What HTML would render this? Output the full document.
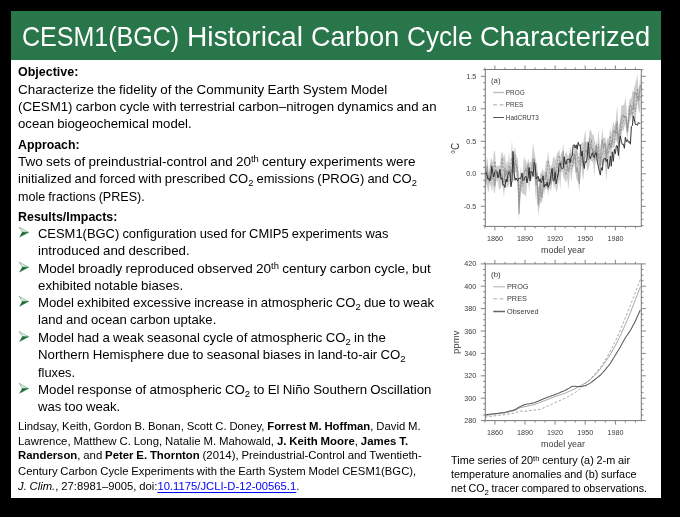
<!DOCTYPE html>
<html><head><meta charset="utf-8"><style>
html,body{margin:0;padding:0;background:#000;width:680px;height:517px;overflow:hidden}
.slide{position:absolute;left:11px;top:11px;width:650px;height:487px;background:#fff;overflow:hidden;font-family:"Liberation Sans",sans-serif;color:#000}
.tbar{position:absolute;left:0;top:0;width:650px;height:49.2px;background:#29764a}
.ln{position:absolute;white-space:nowrap;line-height:1;transform-origin:0 0}
.arr{position:absolute;left:0;top:0}

.sup{font-size:0.7em;vertical-align:0.42em;line-height:0}
.sub{font-size:0.72em;vertical-align:-0.36em;line-height:0}
.lnk{color:#0000ff;text-decoration:underline;text-decoration-thickness:1px;text-underline-offset:1.5px}

</style></head><body>
<div class="slide">
<div class="tbar"></div>
<div class="ln" style="left:11.39px;top:11.54px;font-size:27.6px;transform:scaleX(0.9070);color:#fff">CESM1(BGC)</div>
<div class="ln" style="left:176.36px;top:11.54px;font-size:27.6px;transform:scaleX(1.0218);color:#fff">Historical</div>
<div class="ln" style="left:299.93px;top:11.54px;font-size:27.6px;transform:scaleX(0.9739);color:#fff">Carbon</div>
<div class="ln" style="left:396.25px;top:11.54px;font-size:27.6px;transform:scaleX(0.9493);color:#fff">Cycle</div>
<div class="ln" style="left:469.01px;top:11.54px;font-size:27.6px;transform:scaleX(0.9905);color:#fff">Characterized</div>
<div class="ln" style="left:6.60px;top:53.87px;font-size:13.5px;transform:scaleX(0.9252);word-spacing:-0.5px"><b>Objective:</b></div>
<div class="ln" style="left:6.60px;top:71.77px;font-size:13.5px;transform:scaleX(0.9927);word-spacing:-0.5px">Characterize the fidelity of the Community Earth System Model</div>
<div class="ln" style="left:6.60px;top:89.17px;font-size:13.5px;transform:scaleX(0.9827);word-spacing:-0.5px">(CESM1) carbon cycle with terrestrial carbon–nitrogen dynamics and an</div>
<div class="ln" style="left:6.60px;top:106.37px;font-size:13.5px;transform:scaleX(0.9779);word-spacing:-0.5px">ocean biogeochemical model.</div>
<div class="ln" style="left:6.60px;top:126.97px;font-size:13.5px;transform:scaleX(0.9111);word-spacing:-0.5px"><b>Approach:</b></div>
<div class="ln" style="left:6.60px;top:144.37px;font-size:13.5px;transform:scaleX(0.9994);word-spacing:-0.5px">Two sets of preindustrial-control and 20<span class="sup">th</span> century experiments were</div>
<div class="ln" style="left:6.60px;top:161.17px;font-size:13.5px;transform:scaleX(0.9624);word-spacing:-0.5px">initialized and forced with prescribed CO<span class="sub">2</span> emissions (PROG) and CO<span class="sub">2</span></div>
<div class="ln" style="left:6.60px;top:178.67px;font-size:13.5px;transform:scaleX(0.9296);word-spacing:-0.5px">mole fractions (PRES).</div>
<div class="ln" style="left:6.60px;top:198.77px;font-size:13.5px;transform:scaleX(0.9200);word-spacing:-0.5px"><b>Results/Impacts:</b></div>
<div class="ln" style="left:26.80px;top:215.67px;font-size:13.5px;transform:scaleX(0.9590);word-spacing:-0.5px">CESM1(BGC) configuration used for CMIP5 experiments was</div>
<div class="ln" style="left:26.80px;top:232.87px;font-size:13.5px;transform:scaleX(0.9821);word-spacing:-0.5px">introduced and described.</div>
<div class="ln" style="left:26.80px;top:250.57px;font-size:13.5px;transform:scaleX(1.0005);word-spacing:-0.5px">Model broadly reproduced observed 20<span class="sup">th</span> century carbon cycle, but</div>
<div class="ln" style="left:26.80px;top:267.57px;font-size:13.5px;transform:scaleX(0.9830);word-spacing:-0.5px">exhibited notable biases.</div>
<div class="ln" style="left:26.80px;top:284.87px;font-size:13.5px;transform:scaleX(0.9771);word-spacing:-0.5px">Model exhibited excessive increase in atmospheric CO<span class="sub">2</span> due to weak</div>
<div class="ln" style="left:26.80px;top:302.37px;font-size:13.5px;transform:scaleX(0.9722);word-spacing:-0.5px">land and ocean carbon uptake.</div>
<div class="ln" style="left:26.80px;top:320.07px;font-size:13.5px;transform:scaleX(0.9787);word-spacing:-0.5px">Model had a weak seasonal cycle of atmospheric CO<span class="sub">2</span> in the</div>
<div class="ln" style="left:26.80px;top:337.07px;font-size:13.5px;transform:scaleX(0.9800);word-spacing:-0.5px">Northern Hemisphere due to seasonal biases in land-to-air CO<span class="sub">2</span></div>
<div class="ln" style="left:26.80px;top:354.67px;font-size:13.5px;transform:scaleX(0.9505);word-spacing:-0.5px">fluxes.</div>
<div class="ln" style="left:26.80px;top:371.87px;font-size:13.5px;transform:scaleX(0.9834);word-spacing:-0.5px">Model response of atmospheric CO<span class="sub">2</span> to El Niño Southern Oscillation</div>
<div class="ln" style="left:26.80px;top:388.67px;font-size:13.5px;transform:scaleX(0.9722);word-spacing:-0.5px">was too weak.</div>
<div class="ln" style="left:6.60px;top:409.82px;font-size:11.2px;transform:scaleX(1.0108);word-spacing:-0.3px">Lindsay, Keith, Gordon B. Bonan, Scott C. Doney, <b>Forrest M. Hoffman</b>, David M.</div>
<div class="ln" style="left:6.60px;top:424.92px;font-size:11.2px;transform:scaleX(1.0189);word-spacing:-0.3px">Lawrence, Matthew C. Long, Natalie M. Mahowald, <b>J. Keith Moore</b>, <b>James T.</b></div>
<div class="ln" style="left:6.60px;top:439.42px;font-size:11.2px;transform:scaleX(1.0148);word-spacing:-0.3px"><b>Randerson</b>, and <b>Peter E. Thornton</b> (2014), Preindustrial-Control and Twentieth-</div>
<div class="ln" style="left:6.60px;top:454.72px;font-size:11.2px;transform:scaleX(1.0091);word-spacing:-0.3px">Century Carbon Cycle Experiments with the Earth System Model CESM1(BGC),</div>
<div class="ln" style="left:6.60px;top:469.82px;font-size:11.2px;transform:scaleX(1.0071);word-spacing:-0.3px"><i>J. Clim.</i>, 27:8981–9005, doi:<span class="lnk">10.1175/JCLI-D-12-00565.1</span>.</div>
<div class="ln" style="left:440.00px;top:443.83px;font-size:10.6px;transform:scaleX(1.0262);word-spacing:-0.3px">Time series of 20<span class="sup">th</span> century (a) 2-m air</div>
<div class="ln" style="left:440.00px;top:457.93px;font-size:10.6px;transform:scaleX(1.0235);word-spacing:-0.3px">temperature anomalies and (b) surface</div>
<div class="ln" style="left:440.00px;top:471.73px;font-size:10.6px;transform:scaleX(1.0097);word-spacing:-0.3px">net CO<span class="sub">2</span> tracer compared to observations.</div>
<svg class="arr" width="650" height="487" viewBox="0 0 650 487"><path d="M8.1,216.1 L17.7,221.4 L11.3,221.1 Z" fill="#e4efe6" stroke="#5c9a6c" stroke-width="0.55"/><path d="M11.3,221.1 L17.7,221.4 L8.4,226.3 Z" fill="#1f6d3a" stroke="#1f6d3a" stroke-width="0.2"/><path d="M8.1,251.0 L17.7,256.3 L11.3,256.0 Z" fill="#e4efe6" stroke="#5c9a6c" stroke-width="0.55"/><path d="M11.3,256.0 L17.7,256.3 L8.4,261.2 Z" fill="#1f6d3a" stroke="#1f6d3a" stroke-width="0.2"/><path d="M8.1,285.3 L17.7,290.6 L11.3,290.3 Z" fill="#e4efe6" stroke="#5c9a6c" stroke-width="0.55"/><path d="M11.3,290.3 L17.7,290.6 L8.4,295.5 Z" fill="#1f6d3a" stroke="#1f6d3a" stroke-width="0.2"/><path d="M8.1,320.5 L17.7,325.8 L11.3,325.5 Z" fill="#e4efe6" stroke="#5c9a6c" stroke-width="0.55"/><path d="M11.3,325.5 L17.7,325.8 L8.4,330.7 Z" fill="#1f6d3a" stroke="#1f6d3a" stroke-width="0.2"/><path d="M8.1,372.3 L17.7,377.6 L11.3,377.3 Z" fill="#e4efe6" stroke="#5c9a6c" stroke-width="0.55"/><path d="M11.3,377.3 L17.7,377.6 L8.4,382.5 Z" fill="#1f6d3a" stroke="#1f6d3a" stroke-width="0.2"/></svg>
<svg class="chart" width="680" height="517" viewBox="0 0 680 517" style="position:absolute;left:-11px;top:-11px">
<defs><filter id="bl" x="-5%" y="-5%" width="110%" height="110%"><feGaussianBlur stdDeviation="0.45"/></filter></defs>
<g filter="url(#bl)">
<polygon points="484.9,164.0 485.9,169.5 486.9,156.4 487.9,162.0 488.9,174.6 489.9,165.2 490.9,158.2 491.9,159.0 492.9,162.7 493.9,152.0 494.9,150.5 495.9,164.7 496.9,166.6 497.9,166.1 498.9,165.4 500.0,165.7 501.0,155.4 502.0,151.0 503.0,154.4 504.0,158.0 505.0,152.5 506.0,165.7 507.0,161.1 508.0,163.0 509.0,152.0 510.0,164.4 511.0,153.7 512.0,140.1 513.0,156.9 514.0,152.4 515.0,146.1 516.0,154.1 517.0,158.0 518.0,159.4 519.0,189.5 520.0,173.9 521.0,166.2 522.0,178.1 523.0,168.0 524.0,156.6 525.0,159.4 526.0,160.9 527.0,165.1 528.1,157.8 529.1,162.3 530.1,162.1 531.1,162.9 532.1,155.0 533.1,141.9 534.1,150.3 535.1,156.0 536.1,162.5 537.1,163.5 538.1,186.1 539.1,187.7 540.1,171.7 541.1,174.6 542.1,168.7 543.1,169.9 544.1,172.7 545.1,168.8 546.1,161.0 547.1,159.9 548.1,151.3 549.1,160.4 550.1,168.1 551.1,165.8 552.1,164.3 553.1,157.6 554.1,155.7 555.1,160.7 556.1,157.1 557.2,153.1 558.2,151.8 559.2,149.3 560.2,156.8 561.2,153.0 562.2,151.8 563.2,142.3 564.2,156.9 565.2,153.6 566.2,150.9 567.2,154.8 568.2,156.8 569.2,154.1 570.2,145.9 571.2,153.7 572.2,147.0 573.2,155.2 574.2,146.7 575.2,150.1 576.2,143.8 577.2,146.0 578.2,155.9 579.2,156.8 580.2,145.0 581.2,143.9 582.2,141.8 583.2,143.6 584.2,136.5 585.2,129.7 586.3,142.4 587.3,140.5 588.3,145.5 589.3,132.6 590.3,129.0 591.3,131.6 592.3,134.8 593.3,134.4 594.3,138.1 595.3,145.6 596.3,139.4 597.3,149.3 598.3,129.4 599.3,139.5 600.3,151.9 601.3,140.5 602.3,127.5 603.3,137.7 604.3,138.3 605.3,136.7 606.3,143.4 607.3,138.2 608.3,138.4 609.3,136.5 610.3,127.1 611.3,134.8 612.3,128.1 613.3,120.9 614.4,126.3 615.4,123.7 616.4,112.9 617.4,106.0 618.4,133.6 619.4,124.8 620.4,117.8 621.4,105.3 622.4,105.8 623.4,105.1 624.4,104.1 625.4,97.2 626.4,105.5 627.4,123.4 628.4,112.9 629.4,99.5 630.4,99.3 631.4,98.0 632.4,90.9 633.4,91.8 634.4,86.7 635.4,83.7 636.4,79.0 637.4,73.9 638.4,89.8 639.4,85.9 640.4,74.3 640.4,106.7 639.4,113.6 638.4,109.8 637.4,103.4 636.4,111.3 635.4,123.3 634.4,120.1 633.4,120.9 632.4,124.3 631.4,114.5 630.4,120.2 629.4,122.6 628.4,129.5 627.4,140.4 626.4,131.1 625.4,124.2 624.4,126.7 623.4,131.3 622.4,129.2 621.4,136.1 620.4,137.9 619.4,162.5 618.4,151.5 617.4,142.8 616.4,140.7 615.4,140.7 614.4,148.2 613.3,147.9 612.3,147.0 611.3,154.6 610.3,160.7 609.3,151.6 608.3,166.7 607.3,168.8 606.3,180.7 605.3,167.4 604.3,160.9 603.3,166.1 602.3,164.3 601.3,165.6 600.3,172.5 599.3,171.1 598.3,159.4 597.3,163.3 596.3,159.0 595.3,163.2 594.3,176.7 593.3,164.1 592.3,161.8 591.3,160.9 590.3,160.3 589.3,165.7 588.3,169.6 587.3,171.6 586.3,163.1 585.2,157.1 584.2,170.3 583.2,180.7 582.2,174.0 581.2,161.7 580.2,178.1 579.2,193.6 578.2,180.4 577.2,181.8 576.2,178.0 575.2,169.4 574.2,163.9 573.2,168.1 572.2,173.3 571.2,182.5 570.2,170.4 569.2,180.9 568.2,189.5 567.2,177.8 566.2,181.1 565.2,182.6 564.2,178.5 563.2,177.3 562.2,169.8 561.2,173.9 560.2,189.6 559.2,178.4 558.2,183.8 557.2,190.6 556.1,191.8 555.1,184.2 554.1,189.2 553.1,183.1 552.1,180.3 551.1,191.9 550.1,188.6 549.1,188.1 548.1,196.0 547.1,186.3 546.1,189.0 545.1,188.9 544.1,195.3 543.1,190.7 542.1,203.8 541.1,201.6 540.1,204.3 539.1,209.9 538.1,214.9 537.1,187.6 536.1,201.5 535.1,191.1 534.1,168.0 533.1,176.5 532.1,178.7 531.1,180.8 530.1,180.9 529.1,192.7 528.1,178.6 527.0,184.5 526.0,197.1 525.0,195.3 524.0,193.9 523.0,194.4 522.0,192.4 521.0,191.3 520.0,200.2 519.0,220.3 518.0,189.2 517.0,179.7 516.0,173.1 515.0,172.2 514.0,177.1 513.0,182.9 512.0,180.1 511.0,179.8 510.0,181.5 509.0,184.6 508.0,187.1 507.0,188.0 506.0,182.4 505.0,185.5 504.0,197.6 503.0,189.4 502.0,180.5 501.0,187.7 500.0,188.7 498.9,189.5 497.9,181.3 496.9,181.8 495.9,179.9 494.9,193.7 493.9,192.3 492.9,184.5 491.9,192.3 490.9,186.0 489.9,183.4 488.9,191.1 487.9,192.1 486.9,184.1 485.9,188.5 484.9,190.8" fill="#cdcdcd"/>
<polyline points="484.9,182.8 485.9,182.1 486.9,165.9 487.9,175.2 488.9,181.0 489.9,173.9 490.9,164.4 491.9,179.6 492.9,176.8 493.9,178.6 494.9,186.5 495.9,173.0 496.9,173.1 497.9,172.5 498.9,177.6 500.0,171.5 501.0,175.8 502.0,174.7 503.0,180.5 504.0,183.2 505.0,167.6 506.0,173.9 507.0,170.8 508.0,171.7 509.0,174.5 510.0,175.8 511.0,168.7 512.0,172.2 513.0,172.3 514.0,171.1 515.0,163.0 516.0,163.8 517.0,166.2 518.0,173.5 519.0,214.0 520.0,192.8 521.0,182.1 522.0,183.3 523.0,177.8 524.0,173.3 525.0,170.6 526.0,168.4 527.0,173.7 528.1,163.9 529.1,178.4 530.1,169.8 531.1,169.2 532.1,166.5 533.1,159.0 534.1,159.0 535.1,176.1 536.1,185.4 537.1,172.3 538.1,205.6 539.1,195.0 540.1,183.1 541.1,193.0 542.1,198.0 543.1,183.2 544.1,178.4 545.1,178.0 546.1,172.6 547.1,177.5 548.1,189.7 549.1,179.4 550.1,180.3 551.1,184.5 552.1,171.6 553.1,170.5 554.1,166.8 555.1,174.3 556.1,174.4 557.2,176.4 558.2,176.0 559.2,168.6 560.2,172.0 561.2,165.6 562.2,163.1 563.2,151.0 564.2,168.7 565.2,159.7 566.2,162.7 567.2,162.9 568.2,172.0 569.2,168.5 570.2,159.1 571.2,160.9 572.2,160.2 573.2,162.1 574.2,153.0 575.2,157.2 576.2,172.5 577.2,167.7 578.2,174.0 579.2,184.2 580.2,169.7 581.2,152.2 582.2,154.1 583.2,162.3 584.2,163.4 585.2,149.9 586.3,151.4 587.3,152.4 588.3,153.3 589.3,152.7 590.3,147.3 591.3,146.9 592.3,148.7 593.3,157.3 594.3,150.0 595.3,155.0 596.3,145.0 597.3,156.7 598.3,153.2 599.3,163.9 600.3,166.2 601.3,145.7 602.3,139.3 603.3,148.8 604.3,143.7 605.3,144.0 606.3,162.3 607.3,149.0 608.3,145.6 609.3,142.7 610.3,148.3 611.3,144.2 612.3,141.3 613.3,130.6 614.4,131.5 615.4,133.2 616.4,122.7 617.4,131.5 618.4,142.2 619.4,146.8 620.4,124.4 621.4,118.9 622.4,115.8 623.4,115.1 624.4,117.3 625.4,116.3 626.4,117.3 627.4,132.5 628.4,122.7 629.4,106.8 630.4,105.3 631.4,106.9 632.4,109.2 633.4,108.9 634.4,92.9 635.4,92.7 636.4,94.5 637.4,96.5 638.4,100.9 639.4,94.4 640.4,84.7" fill="none" stroke="#a0a0a0" stroke-width="1.2"/>
<polyline points="484.9,175.1 485.9,174.8 486.9,174.6 487.9,172.4 488.9,182.6 489.9,177.3 490.9,179.5 491.9,168.9 492.9,175.9 493.9,169.5 494.9,161.1 495.9,170.1 496.9,175.0 497.9,171.6 498.9,171.6 500.0,178.0 501.0,170.7 502.0,158.0 503.0,168.3 504.0,171.5 505.0,178.1 506.0,171.3 507.0,179.0 508.0,180.7 509.0,165.6 510.0,174.4 511.0,164.5 512.0,158.0 513.0,163.8 514.0,163.8 515.0,154.6 516.0,165.7 517.0,172.4 518.0,179.9 519.0,202.9 520.0,183.4 521.0,177.1 522.0,185.3 523.0,186.3 524.0,183.4 525.0,176.6 526.0,176.8 527.0,171.6 528.1,170.2 529.1,173.7 530.1,173.2 531.1,171.4 532.1,172.7 533.1,169.3 534.1,159.2 535.1,164.0 536.1,169.0 537.1,182.0 538.1,196.4 539.1,202.5 540.1,198.7 541.1,180.8 542.1,174.1 543.1,176.3 544.1,186.4 545.1,180.5 546.1,177.4 547.1,168.6 548.1,160.6 549.1,165.8 550.1,173.4 551.1,178.1 552.1,172.2 553.1,170.6 554.1,176.1 555.1,169.5 556.1,175.1 557.2,162.0 558.2,157.5 559.2,155.5 560.2,164.6 561.2,161.1 562.2,163.8 563.2,166.1 564.2,166.2 565.2,172.3 566.2,175.0 567.2,161.1 568.2,162.4 569.2,159.9 570.2,153.6 571.2,168.9 572.2,167.8 573.2,160.8 574.2,156.7 575.2,160.0 576.2,151.6 577.2,153.7 578.2,163.3 579.2,164.5 580.2,153.3 581.2,151.3 582.2,165.6 583.2,149.1 584.2,147.9 585.2,142.3 586.3,151.4 587.3,153.8 588.3,159.9 589.3,138.0 590.3,147.7 591.3,139.4 592.3,150.9 593.3,149.4 594.3,160.6 595.3,155.9 596.3,145.2 597.3,155.8 598.3,144.1 599.3,156.3 600.3,160.6 601.3,157.2 602.3,154.8 603.3,150.7 604.3,151.9 605.3,153.9 606.3,149.9 607.3,152.1 608.3,153.9 609.3,145.6 610.3,135.7 611.3,147.2 612.3,140.3 613.3,141.4 614.4,143.0 615.4,130.8 616.4,134.3 617.4,121.4 618.4,139.4 619.4,130.4 620.4,129.4 621.4,130.8 622.4,121.3 623.4,121.5 624.4,115.5 625.4,116.5 626.4,122.0 627.4,131.0 628.4,120.9 629.4,108.7 630.4,114.5 631.4,109.0 632.4,116.5 633.4,102.2 634.4,107.1 635.4,111.9 636.4,101.2 637.4,88.5 638.4,99.9 639.4,99.8 640.4,96.3" fill="none" stroke="#8a8a8a" stroke-width="0.8" stroke-dasharray="2,1.5"/>
<polyline points="484.9,173.8 485.9,172.0 486.9,174.7 487.9,179.2 488.9,178.1 489.9,180.9 490.9,175.7 491.9,166.3 492.9,173.7 493.9,177.0 494.9,171.6 495.9,170.5 496.9,171.5 497.9,177.9 498.9,174.8 500.0,169.4 501.0,179.4 502.0,177.7 503.0,185.5 504.0,184.6 505.0,187.5 506.0,179.0 507.0,182.0 508.0,173.9 509.0,171.7 510.0,172.8 511.0,186.8 512.0,180.0 513.0,151.3 514.0,171.8 515.0,180.3 516.0,177.8 517.0,180.3 518.0,180.6 519.0,178.0 520.0,178.6 521.0,177.8 522.0,173.0 523.0,180.8 524.0,179.5 525.0,177.2 526.0,176.2 527.0,182.9 528.1,177.1 529.1,167.5 530.1,180.9 531.1,171.2 532.1,172.0 533.1,176.4 534.1,162.3 535.1,164.3 536.1,178.9 537.1,178.1 538.1,176.3 539.1,181.6 540.1,178.7 541.1,182.7 542.1,180.5 543.1,175.9 544.1,187.3 545.1,184.2 546.1,185.9 547.1,182.0 548.1,187.3 549.1,185.2 550.1,181.6 551.1,173.4 552.1,168.4 553.1,180.5 554.1,181.1 555.1,172.2 556.1,183.9 557.2,178.4 558.2,173.8 559.2,163.6 560.2,162.7 561.2,167.7 562.2,169.0 563.2,168.2 564.2,156.9 565.2,163.7 566.2,164.1 567.2,159.3 568.2,159.4 569.2,158.8 570.2,162.9 571.2,156.8 572.2,156.1 573.2,145.4 574.2,144.7 575.2,148.1 576.2,144.9 577.2,149.3 578.2,142.3 579.2,145.7 580.2,144.7 581.2,156.1 582.2,151.2 583.2,162.0 584.2,168.6 585.2,161.5 586.3,162.3 587.3,156.4 588.3,142.3 589.3,155.5 590.3,159.0 591.3,155.5 592.3,152.8 593.3,156.0 594.3,157.6 595.3,153.1 596.3,152.8 597.3,162.1 598.3,166.1 599.3,171.1 600.3,175.1 601.3,167.6 602.3,170.3 603.3,159.3 604.3,158.9 605.3,158.1 606.3,161.4 607.3,159.2 608.3,168.7 609.3,166.3 610.3,156.0 611.3,166.3 612.3,151.8 613.3,161.3 614.4,149.2 615.4,153.7 616.4,145.5 617.4,146.0 618.4,155.5 619.4,142.1 620.4,135.9 621.4,141.8 622.4,144.5 623.4,144.2 624.4,148.3 625.4,137.0 626.4,141.7 627.4,139.6 628.4,142.4 629.4,141.5 630.4,144.2 631.4,126.4 632.4,125.6 633.4,116.0 634.4,119.5 635.4,124.7 636.4,124.3 637.4,125.4 638.4,122.3 639.4,123.4 640.4,123.2" fill="none" stroke="#333" stroke-width="1.0"/>
<rect x="485.3" y="69.5" width="156.0" height="156.9" fill="none" stroke="#787878" stroke-width="1.0"/>
<path d="M480.8,206.3H485.3M641.3,206.3H645.8M480.8,173.8H485.3M641.3,173.8H645.8M480.8,141.3H485.3M641.3,141.3H645.8M480.8,108.8H485.3M641.3,108.8H645.8M480.8,76.3H485.3M641.3,76.3H645.8M483.1,225.8H485.3M641.3,225.8H643.5M483.1,219.3H485.3M641.3,219.3H643.5M483.1,212.8H485.3M641.3,212.8H643.5M483.1,199.8H485.3M641.3,199.8H643.5M483.1,193.3H485.3M641.3,193.3H643.5M483.1,186.8H485.3M641.3,186.8H643.5M483.1,180.3H485.3M641.3,180.3H643.5M483.1,167.3H485.3M641.3,167.3H643.5M483.1,160.8H485.3M641.3,160.8H643.5M483.1,154.3H485.3M641.3,154.3H643.5M483.1,147.8H485.3M641.3,147.8H643.5M483.1,134.8H485.3M641.3,134.8H643.5M483.1,128.3H485.3M641.3,128.3H643.5M483.1,121.8H485.3M641.3,121.8H643.5M483.1,115.3H485.3M641.3,115.3H643.5M483.1,102.3H485.3M641.3,102.3H643.5M483.1,95.8H485.3M641.3,95.8H643.5M483.1,89.3H485.3M641.3,89.3H643.5M483.1,82.8H485.3M641.3,82.8H643.5M483.1,69.8H485.3M641.3,69.8H643.5M484.9,67.5V69.5M484.9,226.4V228.4M494.9,65.5V69.5M494.9,226.4V230.4M505.0,67.5V69.5M505.0,226.4V228.4M515.0,67.5V69.5M515.0,226.4V228.4M525.0,65.5V69.5M525.0,226.4V230.4M535.1,67.5V69.5M535.1,226.4V228.4M545.1,67.5V69.5M545.1,226.4V228.4M555.1,65.5V69.5M555.1,226.4V230.4M565.2,67.5V69.5M565.2,226.4V228.4M575.2,67.5V69.5M575.2,226.4V228.4M585.2,65.5V69.5M585.2,226.4V230.4M595.3,67.5V69.5M595.3,226.4V228.4M605.3,67.5V69.5M605.3,226.4V228.4M615.4,65.5V69.5M615.4,226.4V230.4M625.4,67.5V69.5M625.4,226.4V228.4M635.4,67.5V69.5M635.4,226.4V228.4" stroke="#787878" stroke-width="0.9" fill="none"/>
<text x="476.2" y="78.8" font-size="7.2" text-anchor="end" font-family="Liberation Sans" fill="#3a3a3a">1.5</text>
<text x="476.2" y="111.3" font-size="7.2" text-anchor="end" font-family="Liberation Sans" fill="#3a3a3a">1.0</text>
<text x="476.2" y="143.8" font-size="7.2" text-anchor="end" font-family="Liberation Sans" fill="#3a3a3a">0.5</text>
<text x="476.2" y="176.3" font-size="7.2" text-anchor="end" font-family="Liberation Sans" fill="#3a3a3a">0.0</text>
<text x="476.2" y="208.8" font-size="7.2" text-anchor="end" font-family="Liberation Sans" fill="#3a3a3a">-0.5</text>
<text x="494.9" y="240.9" font-size="7.2" text-anchor="middle" font-family="Liberation Sans" fill="#3a3a3a">1860</text>
<text x="525.0" y="240.9" font-size="7.2" text-anchor="middle" font-family="Liberation Sans" fill="#3a3a3a">1890</text>
<text x="555.1" y="240.9" font-size="7.2" text-anchor="middle" font-family="Liberation Sans" fill="#3a3a3a">1920</text>
<text x="585.2" y="240.9" font-size="7.2" text-anchor="middle" font-family="Liberation Sans" fill="#3a3a3a">1950</text>
<text x="615.4" y="240.9" font-size="7.2" text-anchor="middle" font-family="Liberation Sans" fill="#3a3a3a">1980</text>
<text x="563" y="252.6" font-size="8.9" text-anchor="middle" font-family="Liberation Sans" fill="#3a3a3a">model year</text>
<text transform="translate(458.6,148.5) rotate(-90)" font-size="10" text-anchor="middle" font-family="Liberation Sans" fill="#3a3a3a">°C</text>
<text x="491.0" y="82.8" font-size="7.8" font-family="Liberation Sans" fill="#3a3a3a">(a)</text>
<path d="M493.2,92.5H503.9" stroke="#bdbdbd" stroke-width="1.4"/>
<path d="M493.2,104.9H503.9" stroke="#8a8a8a" stroke-width="0.8" stroke-dasharray="3.7,2.7"/>
<path d="M493.2,117.5H503.9" stroke="#3c3c3c" stroke-width="0.9"/>
<text x="505.8" y="94.8" font-size="6.4" font-family="Liberation Sans" fill="#3a3a3a">PROG</text>
<text x="505.8" y="107.2" font-size="6.4" font-family="Liberation Sans" fill="#3a3a3a">PRES</text>
<text x="505.8" y="119.8" font-size="6.4" font-family="Liberation Sans" fill="#3a3a3a">HadCRUT3</text>
<polyline points="484.9,417.2 485.9,417.1 486.9,417.0 487.9,416.8 488.9,416.7 489.9,416.5 490.9,416.4 491.9,416.2 492.9,416.1 493.9,415.9 494.9,415.8 495.9,415.7 496.9,415.6 497.9,415.4 498.9,415.3 500.0,415.2 501.0,415.1 502.0,415.0 503.0,414.9 504.0,414.8 505.0,414.7 506.0,414.5 507.0,414.3 508.0,414.2 509.0,414.0 510.0,413.8 511.0,413.7 512.0,413.5 513.0,413.3 514.0,413.2 515.0,413.0 516.0,412.6 517.0,412.2 518.0,411.8 519.0,411.5 520.0,411.1 521.0,411.1 522.0,411.2 523.0,411.2 524.0,411.3 525.0,411.3 526.0,411.2 527.0,411.0 528.1,410.8 529.1,410.7 530.1,410.5 531.1,410.4 532.1,410.3 533.1,410.2 534.1,410.1 535.1,410.0 536.1,409.9 537.1,409.7 538.1,409.6 539.1,409.5 540.1,409.4 541.1,409.0 542.1,408.5 543.1,408.1 544.1,407.6 545.1,407.2 546.1,406.7 547.1,406.3 548.1,405.8 549.1,405.4 550.1,404.9 551.1,404.5 552.1,404.0 553.1,403.6 554.1,403.1 555.1,402.7 556.1,402.2 557.2,401.8 558.2,401.3 559.2,400.9 560.2,400.4 561.2,400.0 562.2,399.6 563.2,399.1 564.2,398.7 565.2,398.2 566.2,397.6 567.2,397.1 568.2,396.5 569.2,396.0 570.2,395.4 571.2,394.8 572.2,394.3 573.2,393.7 574.2,393.2 575.2,392.6 576.2,391.8 577.2,391.0 578.2,390.3 579.2,389.5 580.2,388.7 581.2,387.7 582.2,386.7 583.2,385.7 584.2,384.7 585.2,383.7 586.3,382.8 587.3,381.9 588.3,381.0 589.3,380.1 590.3,379.2 591.3,378.1 592.3,376.9 593.3,375.8 594.3,374.7 595.3,373.6 596.3,372.3 597.3,371.1 598.3,369.9 599.3,368.7 600.3,367.4 601.3,366.0 602.3,364.5 603.3,363.1 604.3,361.6 605.3,360.1 606.3,358.4 607.3,356.6 608.3,354.8 609.3,353.0 610.3,351.2 611.3,349.2 612.3,347.2 613.3,345.1 614.4,343.1 615.4,341.1 616.4,338.9 617.4,336.6 618.4,334.4 619.4,332.2 620.4,329.9 621.4,327.4 622.4,325.0 623.4,322.5 624.4,320.1 625.4,317.6 626.4,315.1 627.4,312.7 628.4,310.2 629.4,307.7 630.4,305.3 631.4,302.7 632.4,300.1 633.4,297.6 634.4,295.0 635.4,292.4 636.4,289.8 637.4,287.3 638.4,284.7 639.4,282.1 640.4,279.5" fill="none" stroke="#8c8c8c" stroke-width="0.8" stroke-dasharray="2.5,2"/>
<polyline points="484.9,415.7 485.9,415.5 486.9,415.4 487.9,415.2 488.9,415.0 489.9,414.9 490.9,414.7 491.9,414.6 492.9,414.4 493.9,414.3 494.9,414.1 495.9,414.0 496.9,413.8 497.9,413.7 498.9,413.6 500.0,413.4 501.0,413.3 502.0,413.2 503.0,413.0 504.0,412.9 505.0,412.8 506.0,412.5 507.0,412.3 508.0,412.1 509.0,411.9 510.0,411.6 511.0,411.4 512.0,411.2 513.0,411.0 514.0,410.7 515.0,410.5 516.0,410.0 517.0,409.4 518.0,408.8 519.0,408.3 520.0,407.7 521.0,407.5 522.0,407.3 523.0,407.1 524.0,406.8 525.0,406.6 526.0,406.4 527.0,406.2 528.1,405.9 529.1,405.7 530.1,405.5 531.1,405.3 532.1,405.0 533.1,404.8 534.1,404.6 535.1,404.4 536.1,404.0 537.1,403.6 538.1,403.2 539.1,402.8 540.1,402.4 541.1,402.0 542.1,401.6 543.1,401.2 544.1,400.8 545.1,400.4 546.1,400.1 547.1,399.7 548.1,399.3 549.1,398.9 550.1,398.5 551.1,398.1 552.1,397.7 553.1,397.3 554.1,396.9 555.1,396.5 556.1,396.2 557.2,395.9 558.2,395.5 559.2,395.2 560.2,394.8 561.2,394.5 562.2,394.2 563.2,393.8 564.2,393.5 565.2,393.2 566.2,392.7 567.2,392.3 568.2,391.8 569.2,391.4 570.2,390.9 571.2,390.5 572.2,390.0 573.2,389.6 574.2,389.1 575.2,388.7 576.2,388.1 577.2,387.6 578.2,387.0 579.2,386.5 580.2,385.9 581.2,385.3 582.2,384.8 583.2,384.2 584.2,383.7 585.2,383.1 586.3,382.4 587.3,381.7 588.3,381.1 589.3,380.4 590.3,379.7 591.3,378.7 592.3,377.7 593.3,376.7 594.3,375.7 595.3,374.7 596.3,373.6 597.3,372.5 598.3,371.3 599.3,370.2 600.3,369.1 601.3,367.6 602.3,366.2 603.3,364.7 604.3,363.3 605.3,361.8 606.3,360.4 607.3,358.9 608.3,357.5 609.3,356.0 610.3,354.5 611.3,352.8 612.3,351.0 613.3,349.2 614.4,347.4 615.4,345.6 616.4,343.6 617.4,341.6 618.4,339.5 619.4,337.5 620.4,335.5 621.4,333.3 622.4,331.0 623.4,328.8 624.4,326.6 625.4,324.3 626.4,322.0 627.4,319.6 628.4,317.3 629.4,314.9 630.4,312.6 631.4,310.0 632.4,307.4 633.4,304.8 634.4,302.3 635.4,299.7 636.4,297.1 637.4,294.5 638.4,292.0 639.4,289.4 640.4,286.8" fill="none" stroke="#8c8c8c" stroke-width="0.8"/>
<polyline points="484.9,414.8 485.9,414.7 486.9,414.6 487.9,414.4 488.9,414.3 489.9,414.2 490.9,414.1 491.9,414.0 492.9,413.9 493.9,413.8 494.9,413.7 495.9,413.5 496.9,413.4 497.9,413.3 498.9,413.2 500.0,413.0 501.0,412.9 502.0,412.8 503.0,412.7 504.0,412.6 505.0,412.4 506.0,412.1 507.0,411.9 508.0,411.6 509.0,411.3 510.0,411.0 511.0,410.7 512.0,410.5 513.0,410.2 514.0,409.9 515.0,409.6 516.0,409.0 517.0,408.4 518.0,407.8 519.0,407.2 520.0,406.6 521.0,406.2 522.0,405.7 523.0,405.3 524.0,404.8 525.0,404.4 526.0,404.2 527.0,404.1 528.1,403.9 529.1,403.7 530.1,403.6 531.1,403.4 532.1,403.1 533.1,402.9 534.1,402.7 535.1,402.5 536.1,402.0 537.1,401.6 538.1,401.2 539.1,400.8 540.1,400.3 541.1,399.9 542.1,399.5 543.1,399.1 544.1,398.6 545.1,398.2 546.1,397.8 547.1,397.5 548.1,397.1 549.1,396.7 550.1,396.4 551.1,396.0 552.1,395.6 553.1,395.3 554.1,394.9 555.1,394.5 556.1,394.1 557.2,393.7 558.2,393.3 559.2,392.9 560.2,392.4 561.2,392.0 562.2,391.6 563.2,391.2 564.2,390.8 565.2,390.4 566.2,389.8 567.2,389.2 568.2,388.6 569.2,388.1 570.2,387.5 571.2,386.9 572.2,386.3 573.2,386.3 574.2,386.3 575.2,386.3 576.2,386.4 577.2,386.4 578.2,386.5 579.2,386.5 580.2,386.6 581.2,386.4 582.2,386.2 583.2,386.0 584.2,385.8 585.2,385.7 586.3,385.2 587.3,384.6 588.3,384.1 589.3,383.6 590.3,383.1 591.3,382.3 592.3,381.5 593.3,380.7 594.3,380.0 595.3,379.2 596.3,378.4 597.3,377.6 598.3,376.8 599.3,376.0 600.3,375.3 601.3,374.1 602.3,373.0 603.3,371.9 604.3,370.8 605.3,369.7 606.3,368.4 607.3,367.2 608.3,366.0 609.3,364.7 610.3,363.5 611.3,361.8 612.3,360.1 613.3,358.5 614.4,356.8 615.4,355.1 616.4,353.4 617.4,351.7 618.4,350.1 619.4,348.4 620.4,346.7 621.4,344.9 622.4,343.1 623.4,341.3 624.4,339.5 625.4,337.7 626.4,336.3 627.4,334.8 628.4,333.4 629.4,331.9 630.4,330.5 631.4,328.6 632.4,326.7 633.4,324.8 634.4,322.9 635.4,321.0 636.4,318.7 637.4,316.5 638.4,314.2 639.4,312.0 640.4,309.8" fill="none" stroke="#5a5a5a" stroke-width="1.05"/>
<rect x="485.3" y="263.9" width="156.0" height="156.7" fill="none" stroke="#787878" stroke-width="1.0"/>
<path d="M480.8,420.6H485.3M641.3,420.6H645.8M480.8,398.2H485.3M641.3,398.2H645.8M480.8,375.8H485.3M641.3,375.8H645.8M480.8,353.4H485.3M641.3,353.4H645.8M480.8,331.0H485.3M641.3,331.0H645.8M480.8,308.6H485.3M641.3,308.6H645.8M480.8,286.2H485.3M641.3,286.2H645.8M480.8,263.9H485.3M641.3,263.9H645.8M483.1,415.0H485.3M641.3,415.0H643.5M483.1,409.4H485.3M641.3,409.4H643.5M483.1,403.8H485.3M641.3,403.8H643.5M483.1,392.6H485.3M641.3,392.6H643.5M483.1,387.0H485.3M641.3,387.0H643.5M483.1,381.4H485.3M641.3,381.4H643.5M483.1,370.2H485.3M641.3,370.2H643.5M483.1,364.6H485.3M641.3,364.6H643.5M483.1,359.0H485.3M641.3,359.0H643.5M483.1,347.8H485.3M641.3,347.8H643.5M483.1,342.2H485.3M641.3,342.2H643.5M483.1,336.6H485.3M641.3,336.6H643.5M483.1,325.4H485.3M641.3,325.4H643.5M483.1,319.8H485.3M641.3,319.8H643.5M483.1,314.2H485.3M641.3,314.2H643.5M483.1,303.0H485.3M641.3,303.0H643.5M483.1,297.4H485.3M641.3,297.4H643.5M483.1,291.8H485.3M641.3,291.8H643.5M483.1,280.7H485.3M641.3,280.7H643.5M483.1,275.1H485.3M641.3,275.1H643.5M483.1,269.5H485.3M641.3,269.5H643.5M484.9,261.9V263.9M484.9,420.6V422.6M494.9,259.9V263.9M494.9,420.6V424.6M505.0,261.9V263.9M505.0,420.6V422.6M515.0,261.9V263.9M515.0,420.6V422.6M525.0,259.9V263.9M525.0,420.6V424.6M535.1,261.9V263.9M535.1,420.6V422.6M545.1,261.9V263.9M545.1,420.6V422.6M555.1,259.9V263.9M555.1,420.6V424.6M565.2,261.9V263.9M565.2,420.6V422.6M575.2,261.9V263.9M575.2,420.6V422.6M585.2,259.9V263.9M585.2,420.6V424.6M595.3,261.9V263.9M595.3,420.6V422.6M605.3,261.9V263.9M605.3,420.6V422.6M615.4,259.9V263.9M615.4,420.6V424.6M625.4,261.9V263.9M625.4,420.6V422.6M635.4,261.9V263.9M635.4,420.6V422.6" stroke="#787878" stroke-width="0.9" fill="none"/>
<text x="476.2" y="423.1" font-size="7.2" text-anchor="end" font-family="Liberation Sans" fill="#3a3a3a">280</text>
<text x="476.2" y="400.7" font-size="7.2" text-anchor="end" font-family="Liberation Sans" fill="#3a3a3a">300</text>
<text x="476.2" y="378.3" font-size="7.2" text-anchor="end" font-family="Liberation Sans" fill="#3a3a3a">320</text>
<text x="476.2" y="355.9" font-size="7.2" text-anchor="end" font-family="Liberation Sans" fill="#3a3a3a">340</text>
<text x="476.2" y="333.5" font-size="7.2" text-anchor="end" font-family="Liberation Sans" fill="#3a3a3a">360</text>
<text x="476.2" y="311.1" font-size="7.2" text-anchor="end" font-family="Liberation Sans" fill="#3a3a3a">380</text>
<text x="476.2" y="288.7" font-size="7.2" text-anchor="end" font-family="Liberation Sans" fill="#3a3a3a">400</text>
<text x="476.2" y="266.4" font-size="7.2" text-anchor="end" font-family="Liberation Sans" fill="#3a3a3a">420</text>
<text x="494.9" y="434.8" font-size="7.2" text-anchor="middle" font-family="Liberation Sans" fill="#3a3a3a">1860</text>
<text x="525.0" y="434.8" font-size="7.2" text-anchor="middle" font-family="Liberation Sans" fill="#3a3a3a">1890</text>
<text x="555.1" y="434.8" font-size="7.2" text-anchor="middle" font-family="Liberation Sans" fill="#3a3a3a">1920</text>
<text x="585.2" y="434.8" font-size="7.2" text-anchor="middle" font-family="Liberation Sans" fill="#3a3a3a">1950</text>
<text x="615.4" y="434.8" font-size="7.2" text-anchor="middle" font-family="Liberation Sans" fill="#3a3a3a">1980</text>
<text x="563" y="446.8" font-size="8.9" text-anchor="middle" font-family="Liberation Sans" fill="#3a3a3a">model year</text>
<text transform="translate(458.6,342.3) rotate(-90)" font-size="9.6" text-anchor="middle" font-family="Liberation Sans" fill="#3a3a3a">ppmv</text>
<text x="491.0" y="277.2" font-size="8" font-family="Liberation Sans" fill="#3a3a3a">(b)</text>
<path d="M493.2,286.8H505" stroke="#9a9a9a" stroke-width="0.8"/>
<path d="M493.2,298.8H505" stroke="#9a9a9a" stroke-width="0.8" stroke-dasharray="3.7,2.7"/>
<path d="M493.2,311.5H505" stroke="#666" stroke-width="1.5"/>
<text x="507.0" y="289.4" font-size="7.3" font-family="Liberation Sans" fill="#3a3a3a">PROG</text>
<text x="507.0" y="301.4" font-size="7.3" font-family="Liberation Sans" fill="#3a3a3a">PRES</text>
<text x="507.0" y="314.1" font-size="7.3" font-family="Liberation Sans" fill="#3a3a3a">Observed</text>
</g></svg>
</div>
</body></html>
